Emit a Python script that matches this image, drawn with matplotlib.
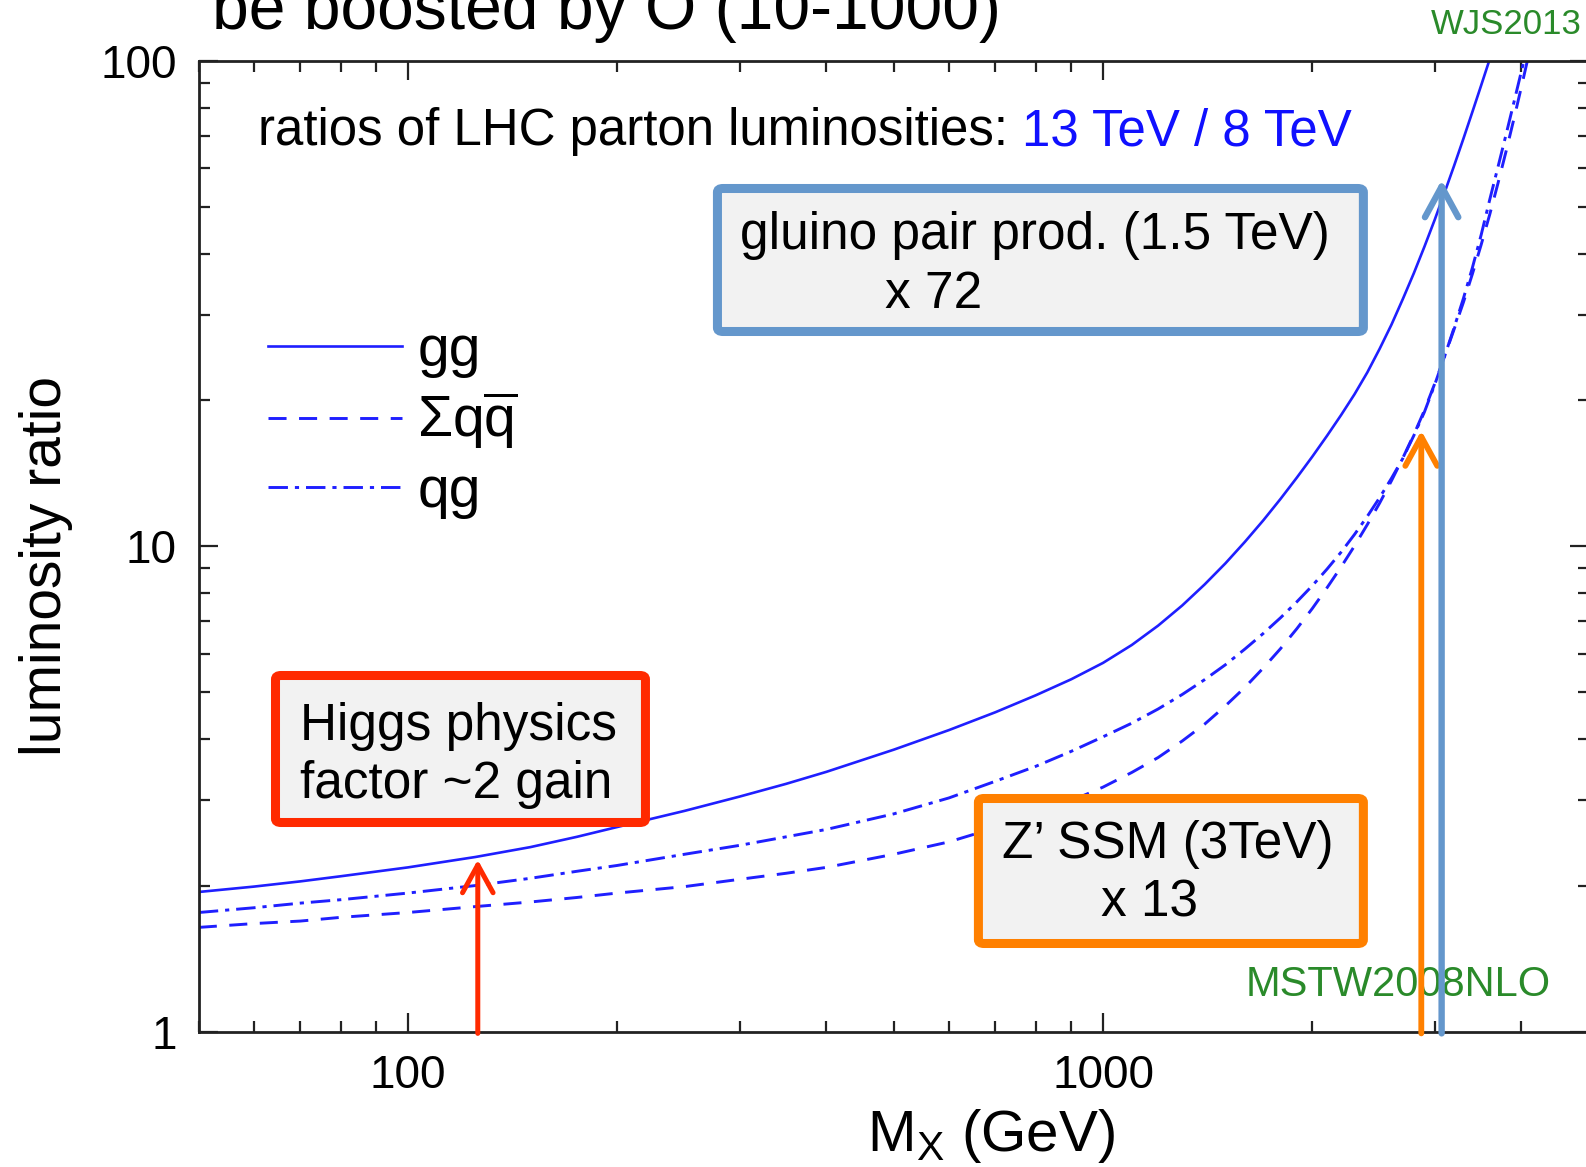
import matplotlib
matplotlib.use("Agg")
import matplotlib.pyplot as plt
from matplotlib.patches import FancyBboxPatch
from matplotlib.ticker import LogLocator, NullFormatter, FixedLocator, FuncFormatter

plt.rcParams['font.family'] = ['Liberation Sans', 'DejaVu Sans']
plt.rcParams['mathtext.fontset'] = 'custom'
plt.rcParams['mathtext.rm'] = 'Liberation Sans'
plt.rcParams['mathtext.it'] = 'Liberation Sans'
plt.rcParams['mathtext.bf'] = 'Liberation Sans:bold'
plt.rcParams['lines.scale_dashes'] = False

# ---- data: 13 TeV / 8 TeV parton luminosity ratios (MSTW2008NLO) ----
mass_gev = [50, 60, 70, 80, 100, 125, 150, 175, 200, 250, 300, 350, 400,
            500, 600, 700, 800, 900, 1000, 1100, 1200, 1300, 1400, 1500, 1600,
            1700, 1800, 1900, 2000, 2100, 2200, 2300, 2400, 2500, 2600, 2700,
            2800, 2900, 3000, 3100, 3200, 3300, 3400, 3500, 3600, 3700, 3800,
            3900, 4000, 4100, 4200]
ratio_gg = [1.94, 1.99, 2.04, 2.09, 2.18, 2.29, 2.40, 2.52, 2.64, 2.85, 3.05, 3.24, 3.43,
            3.81, 4.18, 4.55, 4.93, 5.32, 5.75, 6.26, 6.86, 7.55, 8.34, 9.22, 10.21,
            11.30, 12.51, 13.84, 15.29, 16.88, 18.62, 20.55, 22.8, 25.5, 28.6, 32.3,
            36.5, 41.4, 47.0, 53.5, 60.8, 69.1, 78.5, 89.0, 100.7, 114.0, 129.0,
            146.0, 165.0, 186.0, 210.0]
ratio_qqbar = [1.64, 1.67, 1.69, 1.72, 1.76, 1.81, 1.85, 1.89, 1.93, 1.99, 2.06, 2.12, 2.18,
               2.32, 2.46, 2.63, 2.80, 2.99, 3.19, 3.42, 3.67, 3.97, 4.30, 4.69, 5.12,
               5.61, 6.15, 6.76, 7.44, 8.21, 9.06, 10.01, 11.08, 12.27, 13.64, 15.2,
               16.98, 19.05, 21.6, 24.6, 28.0, 31.8, 36.4, 41.8, 48.2, 55.9, 65.0,
               75.8, 88.5, 103.3, 120.0]
ratio_qg = [1.76, 1.80, 1.84, 1.87, 1.93, 2.00, 2.07, 2.14, 2.20, 2.32, 2.42, 2.52, 2.61,
            2.81, 3.03, 3.28, 3.52, 3.78, 4.05, 4.32, 4.62, 4.95, 5.31, 5.70, 6.14,
            6.61, 7.12, 7.68, 8.29, 8.97, 9.72, 10.57, 11.52, 12.59, 13.80, 15.17,
            16.9, 18.9, 21.5, 24.6, 28.2, 32.4, 37.5, 43.8, 51.7, 60.4, 70.4,
            82.0, 95.3, 110.5, 127.0]
series_labels = ['gg', r'$\Sigma q\overline{q}$', 'qg']

x_ticks = [100, 1000]
y_ticks = [1, 10, 100]

# annotation arrows: (mass, tip ratio)
higgs_arrow = (126, 2.26)
zprime_arrow = (2870, 17.3)
gluino_arrow = (3070, 56.8)

BLUE = '#1f1fff'
RED = '#ff2a00'
ORANGE = '#ff8000'
STEEL = '#6497cc'
GREEN = '#2a8a2a'
FILL = '#f2f2f2'

fig = plt.figure(figsize=(15.86, 11.67), dpi=100, facecolor='white')
ax = fig.add_axes([0.12535, 0.11594, 1.0018 - 0.12535, 0.83205])

ax.plot(mass_gev, ratio_gg, color=BLUE, lw=1.9, ls='-', label=series_labels[0], zorder=2)
ax.plot(mass_gev, ratio_qqbar, color=BLUE, lw=2.1, ls=(0, (13, 9)), label=series_labels[1], zorder=2)
ax.plot(mass_gev, ratio_qg, color=BLUE, lw=2.1, ls=(0, (14, 5, 3, 5)), label=series_labels[2], zorder=2)

ax.set_xscale('log')
ax.set_yscale('log')
ax.set_xlim(50, 5000)
ax.set_ylim(1, 100)

fmt = FuncFormatter(lambda v, p: f'{v:g}')
ax.xaxis.set_major_locator(FixedLocator(x_ticks))
ax.xaxis.set_major_formatter(fmt)
ax.yaxis.set_major_locator(FixedLocator(y_ticks))
ax.yaxis.set_major_formatter(fmt)
for axis in (ax.xaxis, ax.yaxis):
    axis.set_minor_locator(LogLocator(base=10, subs=range(2, 10), numticks=20))
    axis.set_minor_formatter(NullFormatter())

ax.tick_params(which='both', direction='in', top=True, right=True, width=1.6, colors='#222222')
ax.tick_params(which='major', length=14, labelsize=33, labelcolor='black')
ax.tick_params(axis='x', which='major', pad=16)
ax.tick_params(axis='y', which='major', pad=16)
ax.tick_params(which='minor', length=8)
for sp in ax.spines.values():
    sp.set_linewidth(2.0)
    sp.set_color('#222222')

ax.set_xlabel(r'$\mathregular{M_X}$ (GeV)', fontsize=42, va='baseline')
ax.xaxis.set_label_coords(0.570, -0.1232)
ax.set_ylabel('luminosity ratio', fontsize=41, va='center')
ax.yaxis.set_label_coords(-0.110, 0.4796)

leg = ax.legend(loc='upper left', bbox_to_anchor=(0.0498, 0.729), frameon=False,
                fontsize=41, handlelength=2.35, handletextpad=0.27, labelspacing=0.22,
                borderpad=0, borderaxespad=0)

# headline line with coloured energies
t1 = ax.text(0.0425, 0.913, 'ratios of LHC parton luminosities: ', transform=ax.transAxes,
             fontsize=36.7, va='baseline', ha='left', color='black')
ax.annotate('13 TeV / 8 TeV', xy=(1, 0), xycoords=t1, va='bottom', ha='left',
            fontsize=36.7, color='#1010ff')


def box(x0, y0, x1, y1, edge):
    p = FancyBboxPatch((x0, y0), x1 - x0, y1 - y0, boxstyle='round,pad=0,rounding_size=0.004',
                       transform=ax.transAxes, facecolor=FILL, edgecolor=edge, lw=6.5,
                       zorder=3, clip_on=False)
    ax.add_patch(p)


def px_to_ax(px, py):
    return (px - 198.8) / 1390.2, (1031.7 - py) / 971.0


# annotation boxes
for (l, t, r, b), col in [((275.5, 675.5, 645.5, 822.5), RED),
                          ((717.5, 188.5, 1363.5, 331.5), STEEL),
                          ((978.5, 798.5, 1363.5, 943.5), ORANGE)]:
    x0, y1 = px_to_ax(l, t)
    x1, y0 = px_to_ax(r, b)
    box(x0, y0, x1, y1, col)

box_texts = [
    ('Higgs physics', 300, 740, 'left'),
    ('factor ~2 gain', 300, 798, 'left'),
    ('gluino pair prod. (1.5 TeV)', 740, 249, 'left'),
    ('x 72', 885, 308, 'left'),
    ('Z\u2019 SSM (3TeV)', 1168, 858, 'center'),
    ('x 13', 1150, 917, 'center'),
]
for s, px, py, ha in box_texts:
    x, y = px_to_ax(px, py)
    ax.text(x, y, s, transform=ax.transAxes, fontsize=37, ha=ha, va='baseline', zorder=4)

# arrows from the axis up to the curves
for (m, tip), col, lw, hl, hw in [(higgs_arrow, RED, 3.6, 20, 11),
                                  (zprime_arrow, ORANGE, 4.2, 21, 11.5),
                                  (gluino_arrow, STEEL, 4.6, 22, 12)]:
    ax.annotate('', xy=(m, tip), xytext=(m, 0.992),
                arrowprops=dict(arrowstyle=f'->,head_length={hl},head_width={hw}',
                                mutation_scale=1, color=col, lw=lw,
                                shrinkA=0, shrinkB=0),
                annotation_clip=False, zorder=5)

x, y = px_to_ax(1246, 996)
ax.text(x, y, 'MSTW2008NLO', transform=ax.transAxes, fontsize=30, color=GREEN,
        ha='left', va='baseline', zorder=4)

fig.text(1431 / 1586, 1 - 34 / 1167, 'WJS2013', fontsize=25, color=GREEN,
         ha='left', va='baseline')
fig.text(212 / 1586, 1 - 29 / 1167, 'be boosted by O (10-1000)', fontsize=47.5,
         ha='left', va='baseline')

fig.savefig('out.png', dpi=100, facecolor='white')
